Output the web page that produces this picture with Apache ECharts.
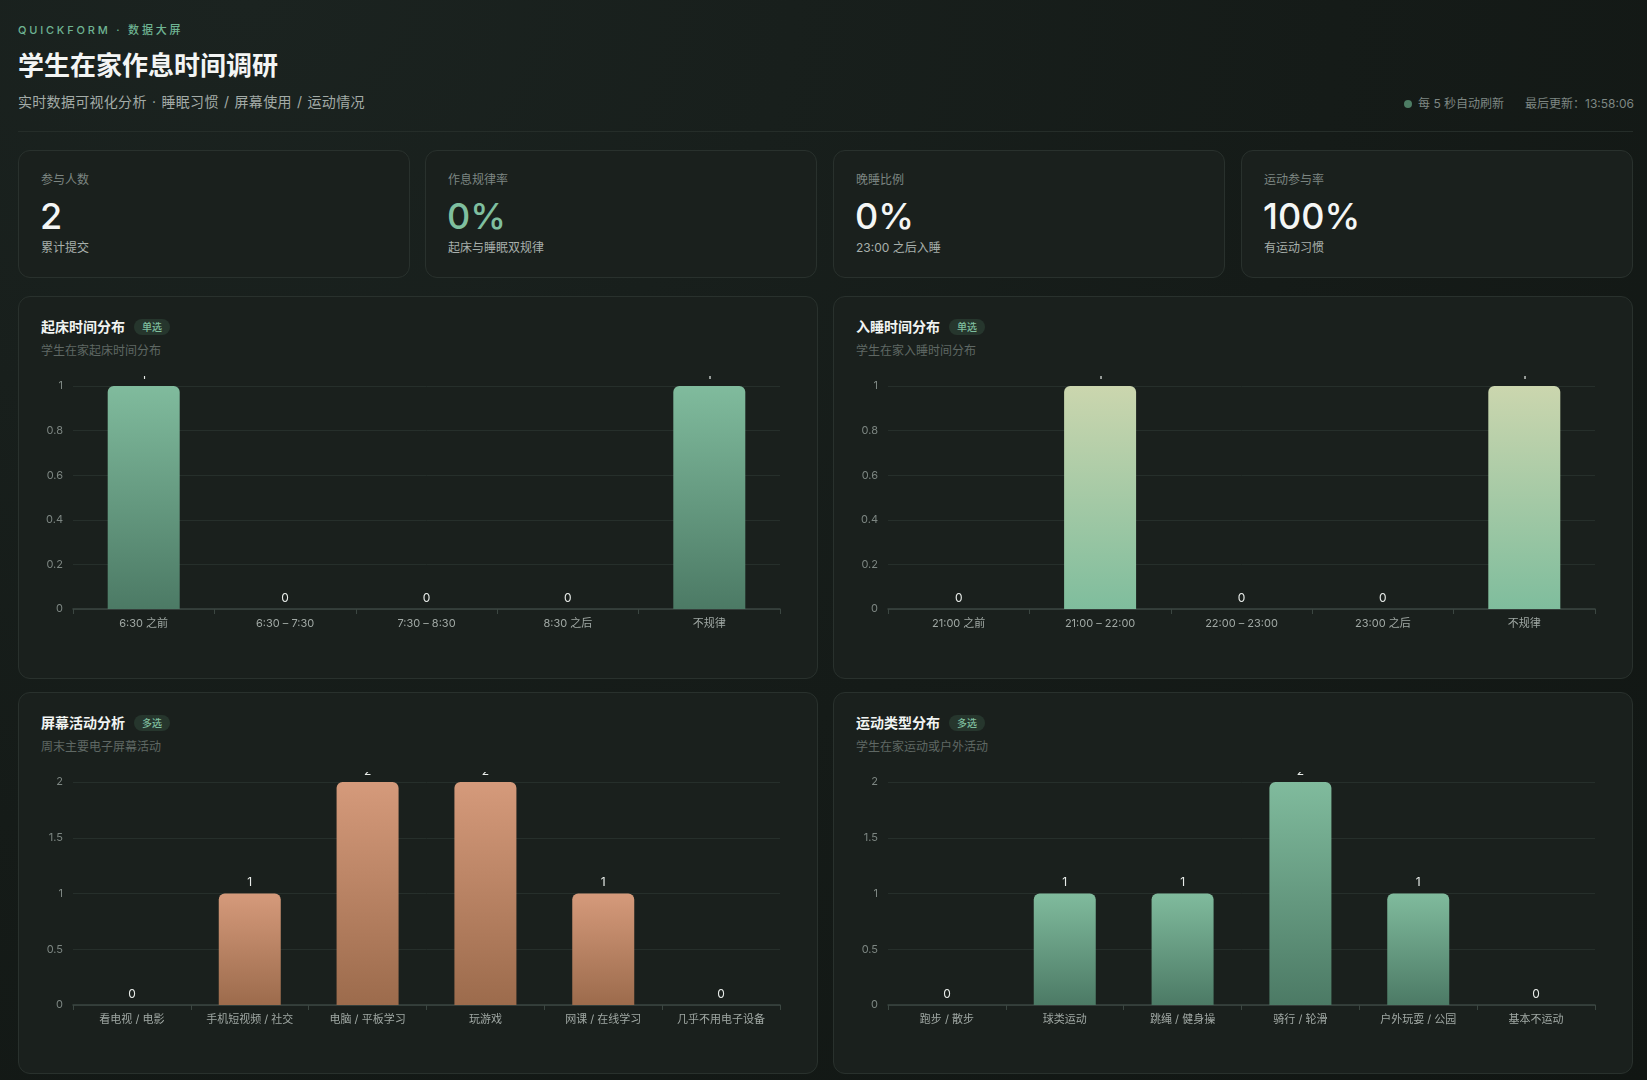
<!DOCTYPE html>
<html lang="zh-CN">
<head>
<meta charset="UTF-8">
<title>学生在家作息时间调研</title>
<script src="https://cdn.jsdelivr.net/npm/echarts@6/dist/echarts.min.js"></script>
<style>
  * { margin: 0; padding: 0; box-sizing: border-box; }
  html, body {
    width: 1647px; height: 1080px; overflow: hidden;
    font-family: Inter, "Noto Sans CJK SC", sans-serif;
    background: radial-gradient(ellipse at 15% 0%, #1b2320 0%, #151b18 55%, #111613 100%);
    color: #e8ece9;
  }
  .abs { position: absolute; }
  .eyebrow { left: 18px; top: 23px; font-size: 11px; line-height: 14px; letter-spacing: 2.8px; color: #6fb493; font-weight: 500; }
  .title { left: 18px; top: 49px; font-size: 26px; line-height: 34px; font-weight: 700; color: #f3f5f4; }
  .subtitle { left: 18px; top: 92px; font-size: 14px; line-height: 20px; color: #a3aba7; letter-spacing: 0.3px; word-spacing: 1px; }
  .status { right: 13px; top: 96px; font-size: 12px; line-height: 16px; color: #7e8783; display: flex; align-items: center; }
  .status .dot { width: 8px; height: 8px; border-radius: 50%; background: #4d7d64; margin-right: 6px; }
  .status .gap { width: 21px; }
  .divider { left: 18px; top: 131px; width: 1615px; height: 1px; background: #252d29; }
  .card {
    background: #1a201d; border: 1px solid #29312d; border-radius: 12px;
  }
  .kpi { top: 150px; width: 392px; height: 128px; }
  .kpi .label { left: 22px; top: 21px; font-size: 12px; line-height: 16px; color: #7d8682; }
  .kpi .value { left: 21px; top: 43px; font-size: 36px; line-height: 44px; font-weight: 500; color: #f4f6f5; }
  .kpi .value.green { color: #7fbf9f; }
  .kpi .sub { left: 22px; top: 89px; font-size: 12px; line-height: 16px; color: #a8b0ac; }
  .panel { width: 800px; }
  .panel .ptitle { left: 22px; top: 20px; font-size: 14px; line-height: 20px; font-weight: 700; color: #f1f4f2; display: flex; align-items: center; }
  .panel .badge { margin-left: 9px; font-size: 10px; line-height: 16px; height: 16px; padding: 0 8px; border-radius: 8px; background: #26362d; color: #7fbf9f; font-weight: 500; }
  .panel .psub { left: 22px; top: 46px; font-size: 12px; line-height: 16px; color: #5f6864; }
  .chart { width: 755px; height: 280px; }
</style>
</head>
<body>
<div class="abs eyebrow">QUICKFORM · 数据大屏</div>
<div class="abs title">学生在家作息时间调研</div>
<div class="abs subtitle">实时数据可视化分析 · 睡眠习惯 / 屏幕使用 / 运动情况</div>
<div class="abs status"><span class="dot"></span>每 5 秒自动刷新<span class="gap"></span>最后更新：13:58:06</div>
<div class="abs divider"></div>

<div class="abs card kpi" style="left:18px">
  <div class="abs label">参与人数</div>
  <div class="abs value">2</div>
  <div class="abs sub">累计提交</div>
</div>
<div class="abs card kpi" style="left:425px">
  <div class="abs label">作息规律率</div>
  <div class="abs value green">0%</div>
  <div class="abs sub">起床与睡眠双规律</div>
</div>
<div class="abs card kpi" style="left:833px">
  <div class="abs label">晚睡比例</div>
  <div class="abs value">0%</div>
  <div class="abs sub">23:00 之后入睡</div>
</div>
<div class="abs card kpi" style="left:1241px">
  <div class="abs label">运动参与率</div>
  <div class="abs value">100%</div>
  <div class="abs sub">有运动习惯</div>
</div>

<div class="abs card panel" style="left:18px;top:296px;height:383px">
  <div class="abs ptitle">起床时间分布<span class="badge">单选</span></div>
  <div class="abs psub">学生在家起床时间分布</div>
</div>
<div class="abs card panel" style="left:833px;top:296px;height:383px">
  <div class="abs ptitle">入睡时间分布<span class="badge">单选</span></div>
  <div class="abs psub">学生在家入睡时间分布</div>
</div>
<div class="abs card panel" style="left:18px;top:692px;height:382px">
  <div class="abs ptitle">屏幕活动分析<span class="badge">多选</span></div>
  <div class="abs psub">周末主要电子屏幕活动</div>
</div>
<div class="abs card panel" style="left:833px;top:692px;height:382px">
  <div class="abs ptitle">运动类型分布<span class="badge">多选</span></div>
  <div class="abs psub">学生在家运动或户外活动</div>
</div>

<div class="abs chart" id="wakeChart" style="left:41px;top:376px"></div>
<div class="abs chart" id="sleepChart" style="left:856px;top:376px"></div>
<div class="abs chart" id="screenChart" style="left:41px;top:772px"></div>
<div class="abs chart" id="sportChart" style="left:856px;top:772px"></div>

<script>
// 起床时间
const wakeCategories = ['6:30 之前', '6:30 – 7:30', '7:30 – 8:30', '8:30 之后', '不规律'];
const wakeValues = [1, 0, 0, 0, 1];
// 入睡时间
const sleepCategories = ['21:00 之前', '21:00 – 22:00', '22:00 – 23:00', '23:00 之后', '不规律'];
const sleepValues = [0, 1, 0, 0, 1];
// 屏幕活动
const screenCategories = ['看电视 / 电影', '手机短视频 / 社交', '电脑 / 平板学习', '玩游戏', '网课 / 在线学习', '几乎不用电子设备'];
const screenValues = [0, 1, 2, 2, 1, 0];
// 运动类型
const sportCategories = ['跑步 / 散步', '球类运动', '跳绳 / 健身操', '骑行 / 轮滑', '户外玩耍 / 公园', '基本不运动'];
const sportValues = [0, 1, 1, 2, 1, 0];
// y 轴刻度
const singleAxis = { max: 1, interval: 0.2 };
const multiAxis = { max: 2, interval: 0.5 };

const FONT = 'Inter, "Noto Sans CJK SC", sans-serif';

function gradient(top, bottom) {
  return new echarts.graphic.LinearGradient(0, 0, 0, 1, [
    { offset: 0, color: top },
    { offset: 1, color: bottom },
  ]);
}

function renderBar(id, categories, values, axis, barWidth, colors) {
  const chart = echarts.init(document.getElementById(id));
  chart.setOption({
    animation: false,
    textStyle: { fontFamily: FONT },
    grid: { top: 10, left: 32, right: 16, bottom: 47 },
    xAxis: {
      type: 'category',
      data: categories,
      axisLine: { lineStyle: { color: '#3b4641', width: 1.5 } },
      axisTick: { show: true, length: 5, lineStyle: { color: '#3b4641' } },
      axisLabel: { color: '#a0a8a4', fontSize: 11, margin: 9, fontFamily: FONT },
    },
    yAxis: {
      type: 'value',
      min: 0,
      max: axis.max,
      interval: axis.interval,
      axisLine: { show: false },
      axisTick: { show: false },
      axisLabel: { color: '#7d8682', fontSize: 11, margin: 10, fontFamily: FONT },
      splitLine: { lineStyle: { color: '#262f2b' } },
    },
    series: [{
      type: 'bar',
      data: values,
      barWidth: barWidth,
      itemStyle: { color: gradient(colors[0], colors[1]), borderRadius: [6, 6, 0, 0] },
      label: { show: true, position: 'top', distance: 5, color: '#e8ece9', fontSize: 12, fontFamily: FONT },
    }],
  });
}

renderBar('wakeChart', wakeCategories, wakeValues, singleAxis, 72, ['#80bb9d', '#4c7a65']);
renderBar('sleepChart', sleepCategories, sleepValues, singleAxis, 72, ['#cbd6ae', '#7fbd9d']);
renderBar('screenChart', screenCategories, screenValues, multiAxis, 62, ['#d59a7b', '#9c6b4c']);
renderBar('sportChart', sportCategories, sportValues, multiAxis, 62, ['#80bb9d', '#4c7a65']);
</script>
</body>
</html>
